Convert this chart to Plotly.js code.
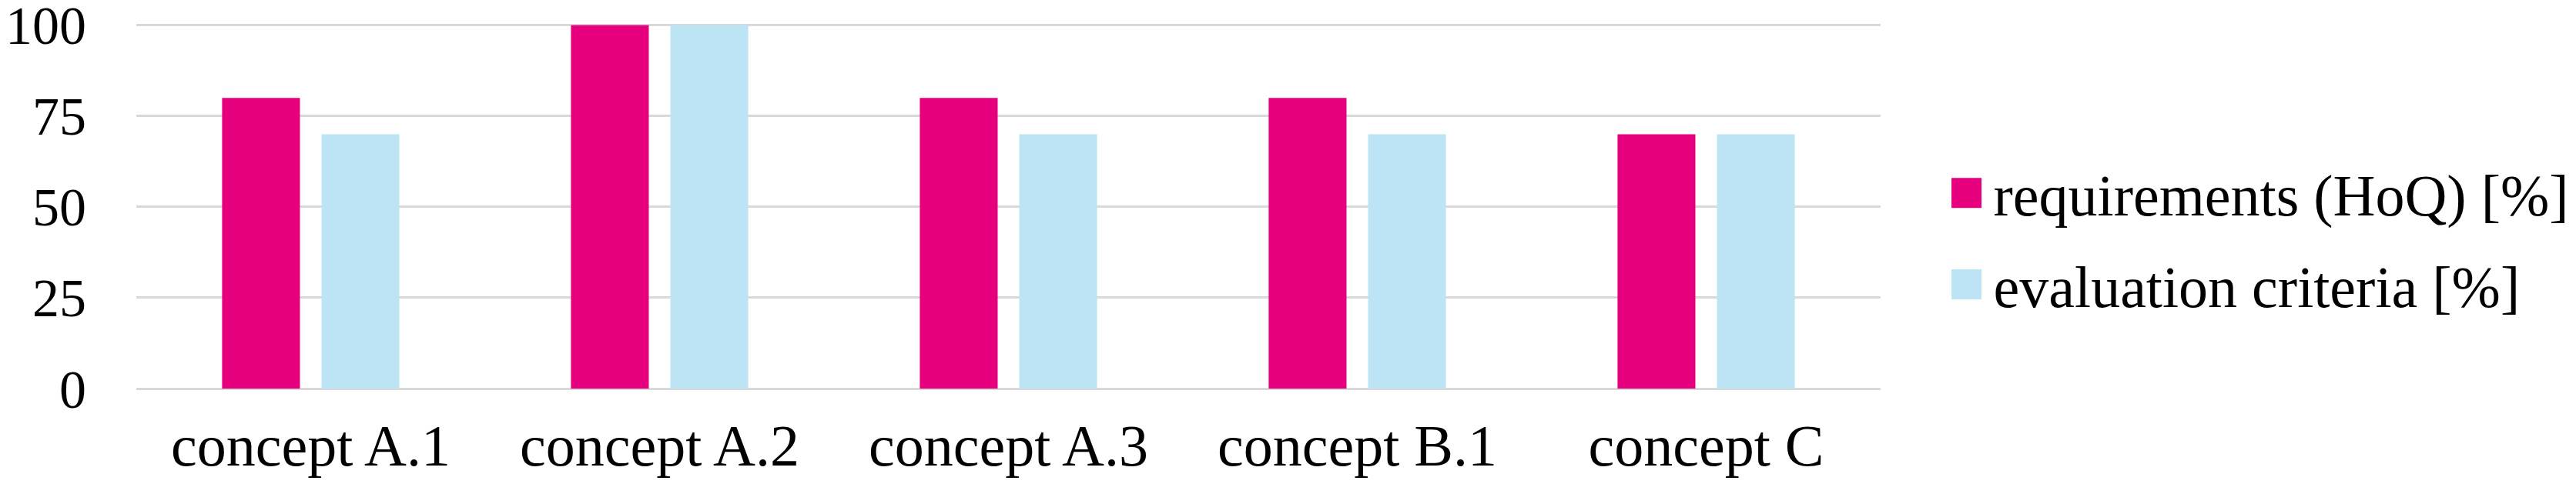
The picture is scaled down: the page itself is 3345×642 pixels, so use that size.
<!DOCTYPE html>
<html>
<head>
<meta charset="utf-8">
<script src="https://cdn.plot.ly/plotly-3.0.1.min.js"></script>
<style>
  html, body { margin: 0; padding: 0; background: #fff; }
  #chart { width: 3345px; height: 642px; }
</style>
</head>
<body>
<div id="chart"></div>
<script>
// categories and values
var concepts = ['concept A.1', 'concept A.2', 'concept A.3', 'concept B.1', 'concept C'];
var requirements = [80, 100, 80, 80, 70];
var evaluation = [70, 100, 70, 70, 70];
var yTicks = [0, 25, 50, 75, 100];

var serif = '"Liberation Serif", "Times New Roman", serif';

var reqTrace = {
  x: concepts,
  y: requirements,
  name: 'requirements (HoQ) [%]',
  legendgroup: 'req',
  type: 'bar',
  marker: { color: '#e6007e', line: { width: 0 } }
};
var evalTrace = {
  x: concepts,
  y: evaluation,
  name: 'evaluation criteria [%]',
  legendgroup: 'eval',
  type: 'bar',
  marker: { color: '#bde4f5', line: { width: 0 } }
};

var layout = {
  width: 3345,
  height: 642,
  margin: { l: 177, r: 903, t: 30, b: 137, pad: 0, autoexpand: false },
  paper_bgcolor: '#ffffff',
  plot_bgcolor: '#ffffff',
  font: { family: serif, size: 75, color: '#000000' },
  barmode: 'group',
  bargap: 0.43,
  bargroupgap: 0.217,
  showlegend: true,
  legend: {
    x: 1.0338,
    xanchor: 'left',
    y: 0.41,
    yanchor: 'middle',
    font: { family: serif, size: 76, color: '#000000' },
    itemwidth: 60,
    traceorder: 'grouped',
    tracegroupgap: 17,
    bgcolor: 'rgba(0,0,0,0)',
    borderwidth: 0
  },
  xaxis: {
    type: 'category',
    automargin: false,
    showgrid: false,
    showline: false,
    zeroline: false,
    ticks: '',
    ticklabelstandoff: 23,
    tickfont: { family: serif, size: 76, color: '#000000' }
  },
  yaxis: {
    range: [0, 100.6],
    automargin: false,
    tickvals: yTicks,
    ticktext: yTicks.map(String),
    ticklabeloverflow: 'allow',
    showgrid: true,
    gridcolor: '#d9d9d9',
    gridwidth: 3,
    zeroline: true,
    zerolinecolor: '#d9d9d9',
    zerolinewidth: 3,
    showline: false,
    ticks: '',
    ticklabelstandoff: 64,
    tickfont: { family: serif, size: 70, color: '#000000' }
  }
};

// bigger square swatches like the reference (plotly draws bar swatches 12px wide)
function growSwatches() {
  var paths = document.querySelectorAll('#chart g.legendpoints path');
  for (var i = 0; i < paths.length; i++) {
    paths[i].setAttribute('d', 'M19.5,19.5H-19.5V-19.5H19.5Z');
  }
}

Plotly.newPlot('chart', [reqTrace, evalTrace], layout, { staticPlot: true, displayModeBar: false })
  .then(function (gd) {
    growSwatches();
    gd.on('plotly_afterplot', growSwatches);
    setTimeout(growSwatches, 50);
  });
</script>
</body>
</html>
